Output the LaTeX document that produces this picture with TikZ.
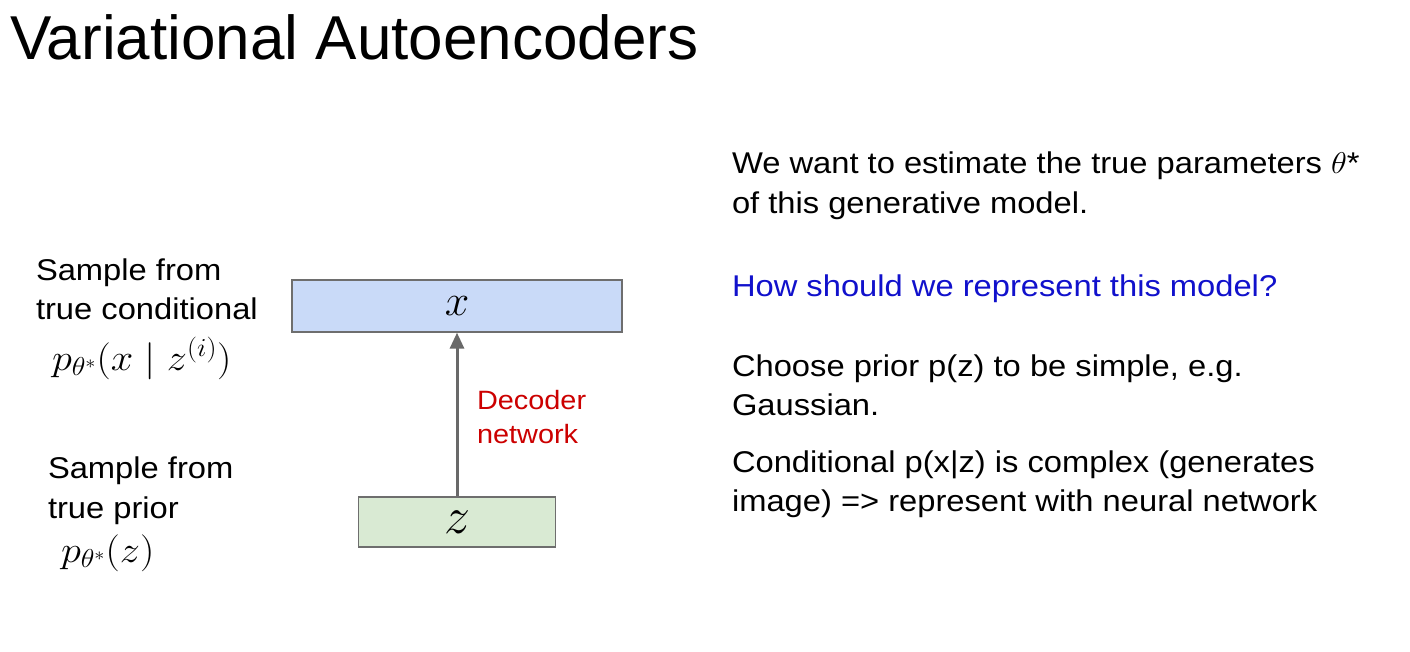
\RequirePackage{fix-cm}
\documentclass[tikz,border=0pt]{standalone}
\usepackage{graphicx}
\usepackage{fontspec}
\setmainfont{Liberation Sans}
\usetikzlibrary{arrows.meta}
\definecolor{boxblue}{RGB}{201,218,248}
\definecolor{boxgreen}{RGB}{217,234,211}
\definecolor{boxline}{RGB}{110,110,110}
\definecolor{arrowgray}{RGB}{105,105,105}
\definecolor{decred}{RGB}{204,0,0}
\definecolor{qblue}{RGB}{17,17,204}
\newcommand\sx[1]{\scalebox{1.09}[1]{#1}}
\tikzset{
  txt/.style={anchor=base west, inner sep=0pt, outer sep=0pt, font=\fontsize{30}{35}\selectfont},
  dtxt/.style={anchor=base west, inner sep=0pt, outer sep=0pt, font=\fontsize{26.5}{31}\selectfont},
  mth/.style={anchor=base west, inner sep=0pt, outer sep=0pt, font=\fontsize{37}{44}\selectfont},
  varbox/.style={draw=boxline, line width=1.3pt, inner sep=0pt},
  decarrow/.style={draw=arrowgray, line width=3pt, -{Triangle[length=16pt,width=14pt]}}
}
\begin{document}
\begin{tikzpicture}[x=1pt,y=-1pt]
\useasboundingbox[fill=white] (0,0) rectangle (1410,652);
% title
\node[anchor=base west, inner sep=0pt, font=\fontsize{62}{70}\selectfont] (title) at (10,60) {Variational Autoencoders};
% boxes
\node[varbox, fill=boxblue, minimum width=330pt, minimum height=52pt, font=\fontsize{44}{50}\selectfont] (xbox) at (457,306) {$x$};
\node[varbox, fill=boxgreen, minimum width=197pt, minimum height=50pt, font=\fontsize{52}{60}\selectfont] (zbox) at (457,522) {$z$};
\draw[decarrow] (zbox.north) -- (xbox.south);
\node[dtxt, text=decred] (dec1) at (477,409) {\sx{Decoder}};
\node[dtxt, text=decred] (dec2) at (477,443) {\sx{network}};
% left labels
\node[txt] (l1) at (36,280) {\sx{Sample from}};
\node[txt] (l2) at (36,319) {\sx{true conditional}};
\node[mth] (l3) at (52,370) {\sx{$p_{\theta^*}(x \mid z^{(i)})$}};
\node[txt] (l4) at (48,478) {\sx{Sample from}};
\node[txt] (l5) at (48,518) {\sx{true prior}};
\node[mth] (l6) at (61,562) {\sx{$p_{\theta^*}(z)$}};
% right text
\node[txt] (r1) at (732,174) {\sx{We want to estimate the true parameters $\theta$*}};
\node[txt] (r2) at (732,214) {\sx{of this generative model.}};
\node[txt, text=qblue] (r3) at (732,296) {\sx{How should we represent this model?}};
\node[txt] (r4) at (732,376) {\sx{Choose prior p(z) to be simple, e.g.}};
\node[txt] (r5) at (732,415) {\sx{Gaussian.}};
\node[txt] (r6) at (732,472) {\sx{Conditional p(x|z) is complex (generates}};
\node[txt] (r7) at (732,511) {\sx{image) => represent with neural network}};
\end{tikzpicture}
\end{document}
